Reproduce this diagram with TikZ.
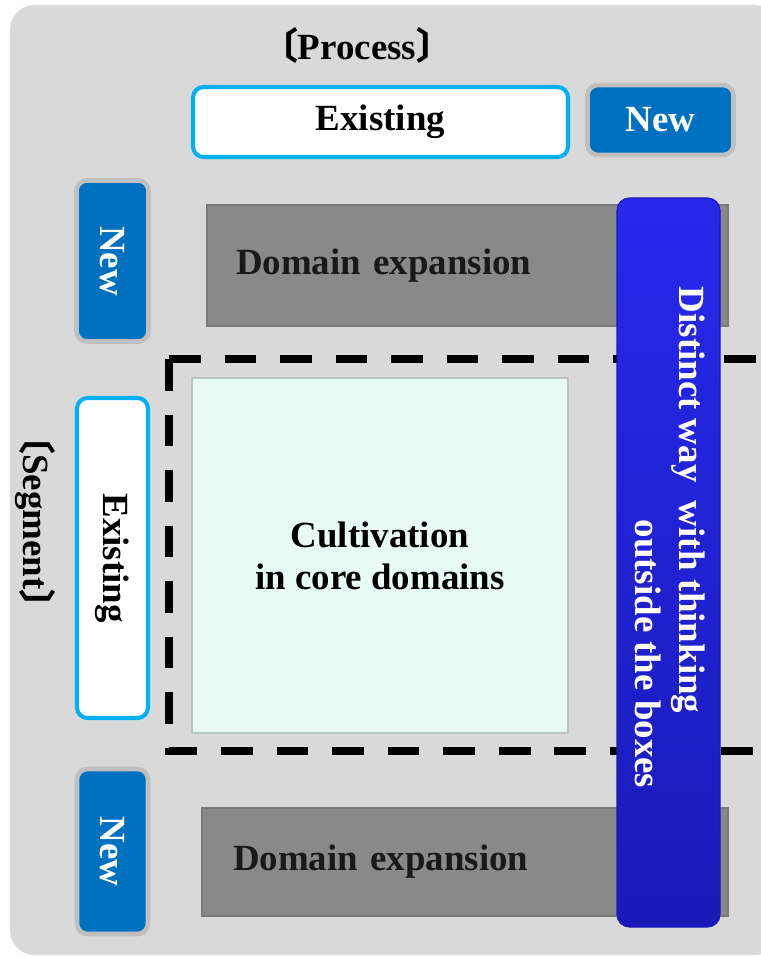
\documentclass[tikz,border=0pt]{standalone}
\usepackage{fontspec}
\setmainfont{Liberation Serif}
\newfontfamily\cjkfont{Noto Sans CJK JP}
\usepackage{tikz}
\usetikzlibrary{positioning}
\definecolor{panel}{HTML}{D9D9D9}
\definecolor{rimgray}{HTML}{BFBFBF}
\definecolor{newblue}{HTML}{0070C0}
\definecolor{oldcyan}{HTML}{00B0F0}
\definecolor{domgray}{HTML}{898989}
\definecolor{domedge}{HTML}{7A7A7A}
\definecolor{coremint}{HTML}{E8FBF4}
\definecolor{coreedge}{HTML}{B8C8C0}
\definecolor{barblue}{HTML}{2828EC}
\definecolor{bardark}{HTML}{1A1AB8}
\tikzset{
  lbl/.style      = {font=\fontsize{21}{24}\selectfont\bfseries, align=center, inner sep=0pt},
  oldbox/.style   = {lbl, draw=oldcyan, line width=2.3pt, fill=white, rounded corners=6pt},
  newbox/.style   = {lbl, draw=rimgray, line width=2.6pt, fill=newblue, text=white, rounded corners=6pt},
  dombox/.style   = {lbl, draw=domedge, line width=0.8pt, fill=domgray, text=black!90, align=left},
  corebox/.style  = {lbl, draw=coreedge, line width=0.8pt, fill=coremint},
  frameline/.style= {line width=4.4pt, dash pattern=on 18pt off 13.6pt},
  bartext/.style  = {lbl, rotate=-90, text=white},
}
\begin{document}
\begin{tikzpicture}
  \useasboundingbox (0,0) rectangle (15.2,-19.14);
  \fill[panel, rounded corners=14pt] (0.2,-0.1) rectangle (15.6,-19.1);

  % column heads
  \node[lbl] (proc) at (7.14,-0.9) {{\cjkfont 〔}Process{\cjkfont 〕}};
  \node[oldbox, minimum width=7.5cm, minimum height=1.4cm] (procOld) at (7.61,-2.44) {Existing};
  \node[newbox, minimum width=2.92cm, minimum height=1.4cm] (procNew) at (13.21,-2.40) {New};

  % row heads
  \node[lbl, rotate=-90] (seg) at (0.7,-10.44) {{\cjkfont 〔}Segment{\cjkfont 〕}};
  \node[newbox, rotate=-90, minimum width=3.22cm, minimum height=1.44cm] (segNewA) at (2.25,-5.22) {New};
  \node[oldbox, rotate=-90, minimum width=6.4cm, minimum height=1.42cm] (segOld) at (2.25,-11.16) {Existing};
  \node[newbox, rotate=-90, minimum width=3.3cm, minimum height=1.42cm] (segNewB) at (2.25,-17.03) {New};

  % fields
  \node[dombox, minimum width=10.42cm, minimum height=2.42cm, text width=9.26cm] (domTop) at (9.35,-5.31) {Domain expansion};
  \node[dombox, minimum width=10.52cm, minimum height=2.16cm, text width=9.28cm] (domBot) at (9.30,-17.24) {Domain expansion};

  \coordinate (fTR) at (15.4,-7.18);
  \coordinate (fTL) at (3.38,-7.18);
  \coordinate (fBL) at (3.38,-15.02);
  \coordinate (fBR) at (15.4,-15.02);
  \draw[frameline] (fTL) -- (fTR);
  \draw[frameline] (fTL) -- (fBL) -- (fBR);

  \node[corebox, minimum width=7.52cm, minimum height=7.1cm] (core) at (7.6,-11.11) {Cultivation\\in core domains};

  \node[minimum width=2.06cm, minimum height=14.58cm, rounded corners=7pt,
        top color=barblue, bottom color=bardark, draw=bardark, line width=0.6pt] (bar) at (13.37,-11.25) {};
  \node[bartext] (barA) at (13.76,-10.0) {Distinct way \ with thinking};
  \node[bartext] (barB) at (12.96,-13.08) {outside the boxes};
\end{tikzpicture}
\end{document}
